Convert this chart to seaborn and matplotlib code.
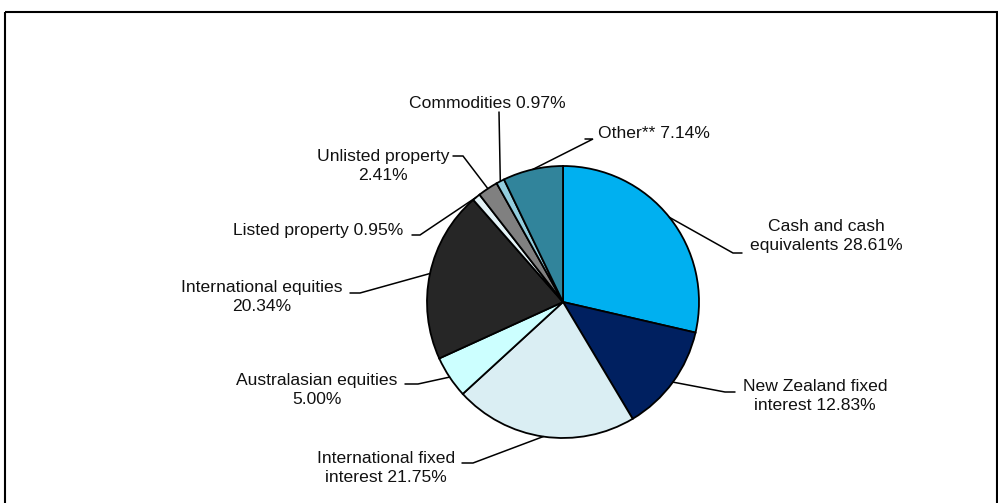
import matplotlib
matplotlib.use("Agg")
import matplotlib.pyplot as plt
import numpy as np
import seaborn as sns

# chart data
categories = ["Cash and cash equivalents", "New Zealand fixed interest",
              "International fixed interest", "Australasian equities",
              "International equities", "Listed property", "Unlisted property",
              "Commodities", "Other**"]
shares = [28.61, 12.83, 21.75, 5.00, 20.34, 0.95, 2.41, 0.97, 7.14]
label_texts = ["Cash and cash\nequivalents 28.61%", "New Zealand fixed\ninterest 12.83%",
               "International fixed\ninterest 21.75%", "Australasian equities\n5.00%",
               "International equities\n20.34%", "Listed property 0.95%",
               "Unlisted property\n2.41%", "Commodities 0.97%", "Other** 7.14%"]
colors = ["#00B0F0", "#002060", "#DAEEF3", "#CCFFFF", "#262626",
          "#E4F3F7", "#808080", "#93CDDD", "#31849B"]

sns.set_style("white")
plt.rcParams["font.family"] = ["Liberation Sans", "DejaVu Sans"]

W, H = 998, 503
fig = plt.figure(figsize=(W / 100, H / 100), dpi=100)
ax = fig.add_axes([0, 0, 1, 1])

cx, cy, r = 563, 302, 136
# pie drawn in a flipped-y axes: counterclock=True then shows clockwise
wedges, _ = ax.pie(shares, colors=colors, startangle=-90, counterclock=True,
                   center=(cx, cy), radius=r, frame=True,
                   wedgeprops=dict(edgecolor="black", linewidth=1.3))
ax.set_xlim(0, W)
ax.set_ylim(H, 0)
ax.set_aspect("equal")
ax.axis("off")

# label layout: text position, alignment, leader stub (start, end)
layout = [
    ((826, 236), "center", (742, 253), (733, 253)),
    ((815, 396), "center", (735, 392), (725, 392)),
    ((386, 468), "center", (462, 463), (473, 463)),
    ((317, 390), "center", (405, 384), (418, 384)),
    ((262, 297), "center", (350, 293), (360, 293)),
    ((318, 231), "center", (412, 235), (420, 235)),
    ((383, 166), "center", (453, 156), (463, 156)),
    ((487, 103), "center", (499, 112), (499, 112)),
    ((598, 133), "left", (585, 139), (593, 139)),
]

cum = np.cumsum([0] + shares)
for i, (txt, (pos, ha, s0, s1)) in enumerate(zip(label_texts, layout)):
    mid = (cum[i] + cum[i + 1]) / 2 / 100 * 2 * np.pi
    # clockwise from top in screen coords
    ex = cx + r * np.sin(mid)
    ey = cy - r * np.cos(mid)
    ax.text(pos[0], pos[1], txt, ha=ha, va="center", fontsize=12.6,
            linespacing=1.3, color="#111111")
    ax.plot([s0[0], s1[0], ex], [s0[1], s1[1], ey], color="black", lw=1.1,
            solid_joinstyle="miter")

# outer frame
frame = plt.Rectangle((5, 11.5), 992, 500, fill=False, edgecolor="black",
                      linewidth=1.5)
ax.add_patch(frame)

fig.savefig("out.png", dpi=100, facecolor="white")
